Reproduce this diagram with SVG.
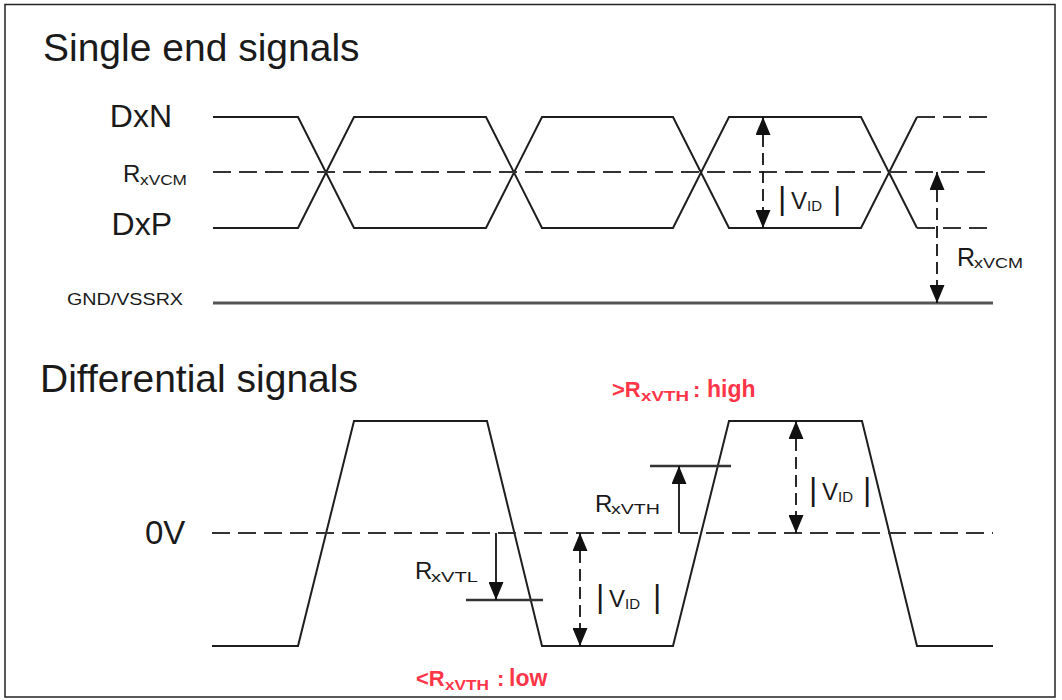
<svg xmlns="http://www.w3.org/2000/svg" width="1062" height="700" viewBox="0 0 1062 700">
<defs>
<style>
.t{font-family:"Liberation Sans",Arial,Helvetica,sans-serif;fill:#1a1a1a}
.title{font-size:39px}
.red{font-family:"Liberation Sans",Arial,Helvetica,sans-serif;fill:#ff3548;font-weight:bold}
.sig{fill:none;stroke:#1e1e1e;stroke-width:2;stroke-linejoin:miter}
.dash{fill:none;stroke:#333;stroke-width:2;stroke-dasharray:18 8}
.gnd{fill:none;stroke:#555;stroke-width:3}
.thr{fill:none;stroke:#333;stroke-width:2.5}
.dim{fill:none;stroke:#111;stroke-width:1.8}
.dimd{fill:none;stroke:#111;stroke-width:1.8;stroke-dasharray:12 6}
</style>
<marker id="ah" markerUnits="userSpaceOnUse" markerWidth="18" markerHeight="15" refX="18" refY="7.5" orient="auto-start-reverse" viewBox="0 0 18 15">
<path d="M0,0 L18,7.5 L0,15 z" fill="#111"/>
</marker>
</defs>
<rect x="0" y="0" width="1062" height="700" fill="#fff"/>
<rect x="5" y="4.5" width="1050" height="692.5" fill="#fff" stroke="#222" stroke-width="1.5"/>

<g id="titles">
<text class="t title" x="43" y="61">Single end signals</text>
<text class="t title" x="40" y="392">Differential signals</text>
</g>

<g id="single-end-signals">
<g id="DxN">
<text class="t" x="172" y="127" font-size="32" text-anchor="end">DxN</text>
<path class="sig" d="M213,117 H298 L354,228 H486 L542,117 H673 L729,228 H861 L917,117"/>
<path class="dash" d="M917,117 H993"/>
</g>
<g id="DxP">
<text class="t" x="172" y="235" font-size="32" text-anchor="end">DxP</text>
<path class="sig" d="M213,228 H298 L354,117 H486 L542,228 H673 L729,117 H861 L917,228"/>
<path class="dash" d="M917,228 H993"/>
</g>
<g id="RxVCM-level">
<text class="t" x="123" y="182" font-size="24">R</text>
<text class="t" x="140" y="185" font-size="15" textLength="47" lengthAdjust="spacingAndGlyphs">xVCM</text>
<path class="dash" d="M213,172 H993"/>
</g>
<g id="GND">
<text class="t" x="67" y="305" font-size="17" textLength="116" lengthAdjust="spacingAndGlyphs">GND/VSSRX</text>
<path class="gnd" d="M213,303 H993"/>
</g>
<g id="VID-single">
<text class="t" x="778" y="209" font-size="32">|</text>
<text class="t" x="791" y="209" font-size="24">V</text>
<text class="t" x="807" y="211" font-size="15">ID</text>
<text class="t" x="833" y="209" font-size="32">|</text>
</g>
<g id="RxVCM-dim">
<text class="t" x="957" y="266" font-size="25">R</text>
<text class="t" x="974" y="268" font-size="15" textLength="49" lengthAdjust="spacingAndGlyphs">xVCM</text>
</g>
</g>

<g id="differential-signals">
<g id="diff-wave">
<path class="sig" d="M212,646 H298 L354,421 H487 L542,646 H673 L729,421 H862 L917,646 H993"/>
</g>
<g id="zero-volt">
<text class="t" x="145" y="544" font-size="33">0V</text>
<path class="dash" d="M212,533 H993"/>
</g>
<g id="RxVTL">
<text class="t" x="415" y="579" font-size="24">R</text>
<text class="t" x="431" y="582" font-size="15" textLength="47" lengthAdjust="spacingAndGlyphs">xVTL</text>
<path class="thr" d="M466,600 H543"/>
</g>
<g id="RxVTH">
<text class="t" x="595" y="512" font-size="24">R</text>
<text class="t" x="611" y="514" font-size="15" textLength="49" lengthAdjust="spacingAndGlyphs">xVTH</text>
<path class="thr" d="M650,466 H731"/>
</g>
<g id="VID-low">
<text class="t" x="596" y="607" font-size="32">|</text>
<text class="t" x="609" y="607" font-size="24">V</text>
<text class="t" x="625" y="609" font-size="15">ID</text>
<text class="t" x="653" y="607" font-size="32">|</text>
</g>
<g id="VID-high">
<text class="t" x="809" y="500" font-size="32">|</text>
<text class="t" x="822" y="500" font-size="24">V</text>
<text class="t" x="838" y="502" font-size="15">ID</text>
<text class="t" x="863" y="500" font-size="32">|</text>
</g>
<g id="high-note">
<text class="red" x="612" y="397" font-size="22">&gt;R</text>
<text class="red" x="641" y="401" font-size="15" textLength="48" lengthAdjust="spacingAndGlyphs">xVTH</text>
<text class="red" x="693" y="397" font-size="22">:</text>
<text class="red" x="707" y="397" font-size="23">high</text>
</g>
<g id="low-note">
<text class="red" x="416" y="686" font-size="22">&lt;R</text>
<text class="red" x="445" y="690" font-size="15" textLength="44" lengthAdjust="spacingAndGlyphs">xVTH</text>
<text class="red" x="497" y="686" font-size="22">:</text>
<text class="red" x="509" y="686" font-size="23">low</text>
</g>
</g>

<g id="connectors">
<line class="dimd" x1="763" y1="117" x2="763" y2="228" marker-start="url(#ah)" marker-end="url(#ah)"/>
<line class="dimd" x1="937" y1="172" x2="937" y2="303" marker-start="url(#ah)" marker-end="url(#ah)"/>
<line class="dim" x1="496" y1="533" x2="496" y2="600" marker-end="url(#ah)"/>
<line class="dimd" x1="580" y1="533" x2="580" y2="646" marker-start="url(#ah)" marker-end="url(#ah)"/>
<line class="dim" x1="679" y1="533" x2="679" y2="466" marker-end="url(#ah)"/>
<line class="dimd" x1="796" y1="421" x2="796" y2="533" marker-start="url(#ah)" marker-end="url(#ah)"/>
</g>
</svg>
